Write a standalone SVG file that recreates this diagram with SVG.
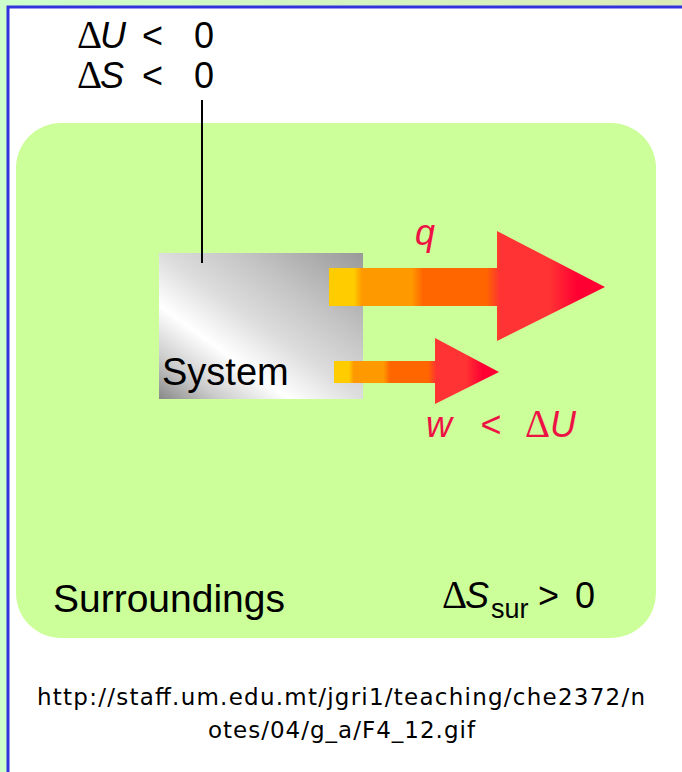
<svg xmlns="http://www.w3.org/2000/svg" width="682" height="772" viewBox="0 0 682 772">
<style>
.lbl{font-family:"Liberation Sans",Arial,sans-serif;fill:#000}
.red{font-family:"Liberation Sans",Arial,sans-serif;fill:#ee1144;font-style:italic}
.dl{font-family:"Liberation Serif","Times New Roman",serif;font-style:normal}
.url{font-family:"DejaVu Sans",Verdana,sans-serif;font-size:23px;fill:#000}
</style>
<defs>
<linearGradient id="topband" x1="0" y1="0" x2="1" y2="0">
<stop offset="0" stop-color="#ccffcc"/><stop offset="1" stop-color="#dcebb8"/>
</linearGradient>
<linearGradient id="sys" x1="1" y1="0" x2="0" y2="1">
<stop offset="0" stop-color="#999999"/>
<stop offset="0.3" stop-color="#c4c4c4"/>
<stop offset="0.5" stop-color="#dddddd"/>
<stop offset="0.68" stop-color="#ffffff"/>
<stop offset="0.85" stop-color="#cccccc"/>
<stop offset="1" stop-color="#888888"/>
</linearGradient>
<linearGradient id="arr" x1="0" y1="0" x2="1" y2="0">
<stop offset="0" stop-color="#ffcc00"/>
<stop offset="0.09" stop-color="#ffcc00"/>
<stop offset="0.12" stop-color="#ff9900"/>
<stop offset="0.3" stop-color="#ff9900"/>
<stop offset="0.34" stop-color="#ff6600"/>
<stop offset="0.57" stop-color="#ff6600"/>
<stop offset="0.62" stop-color="#ff3333"/>
<stop offset="0.8" stop-color="#ff3333"/>
<stop offset="0.9" stop-color="#ff0033"/>
<stop offset="1" stop-color="#ff0033"/>
</linearGradient>
</defs>
<rect x="0" y="0" width="682" height="772" fill="#ccffcc"/>
<rect x="0" y="0" width="682" height="6" fill="url(#topband)"/>
<rect x="8" y="7" width="674" height="765" fill="#ffffff"/>
<path d="M8 772 V7 H682" fill="none" stroke="#3333dd" stroke-width="3"/>

<g id="surroundings">
<rect x="16" y="123" width="640" height="515" rx="45" ry="45" fill="#ccff99"/>
<text class="lbl" x="53" y="612" font-size="39">Surroundings</text>
<text class="lbl" y="608" font-size="36"><tspan class="dl" x="442" font-size="39">Δ</tspan><tspan x="465" font-style="italic">S</tspan><tspan x="491" font-size="27" dy="10">sur</tspan><tspan x="538" dy="-10">&gt;</tspan><tspan x="575">0</tspan></text>
</g>

<g id="state-labels">
<text class="lbl" y="48" font-size="36"><tspan class="dl" x="77" font-size="39">Δ</tspan><tspan x="100" font-style="italic">U</tspan><tspan x="142">&lt;</tspan><tspan x="194">0</tspan></text>
<text class="lbl" y="88" font-size="36"><tspan class="dl" x="77" font-size="39">Δ</tspan><tspan x="100" font-style="italic">S</tspan><tspan x="142">&lt;</tspan><tspan x="194">0</tspan></text>
</g>

<g id="system">
<rect x="159" y="253" width="204" height="146" fill="url(#sys)"/>
<text class="lbl" x="162" y="385" font-size="38">System</text>
</g>

<g id="connectors">
<line x1="202" y1="100" x2="202" y2="263" stroke="#000" stroke-width="2"/>
<path d="M329 268 H497 V231 L605 287 L497 341 V306 H329 Z" fill="url(#arr)"/>
<path d="M334 361 H435 V338 L499 372 L435 404 V383 H334 Z" fill="url(#arr)"/>
<text class="red" x="415" y="245" font-size="36">q</text>
<text class="red" y="437" font-size="36"><tspan x="426">w</tspan><tspan x="480">&lt;</tspan><tspan class="dl" x="525" font-size="39">Δ</tspan><tspan x="550">U</tspan></text>
</g>

<g id="caption">
<text class="url" x="37" y="705" textLength="608" lengthAdjust="spacing">http://staff.um.edu.mt/jgri1/teaching/che2372/n</text>
<text class="url" x="208" y="738" textLength="267" lengthAdjust="spacing">otes/04/g_a/F4_12.gif</text>
</g>
</svg>
